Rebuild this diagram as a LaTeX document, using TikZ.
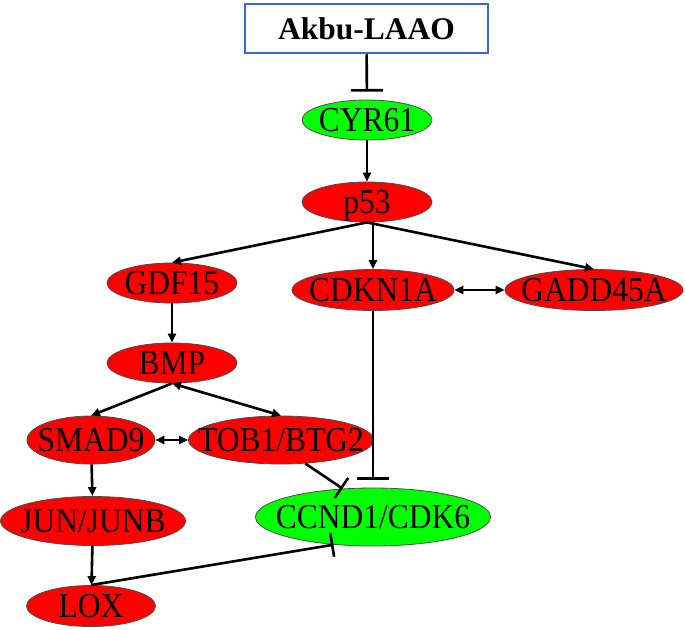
\documentclass[tikz,border=0pt]{standalone}
\usepackage{fontspec}
\setmainfont{Liberation Serif}
\newfontfamily\genefont[FakeStretch=0.9]{Liberation Serif}
\usetikzlibrary{shapes.geometric,arrows.meta}
\definecolor{genered}{RGB}{255,0,0}
\definecolor{genegreen}{RGB}{0,255,0}
\definecolor{boxblue}{RGB}{55,105,220}
\begin{document}
\begin{tikzpicture}[x=1pt,y=-1pt, >={Triangle[length=9pt,width=8pt]}, every node/.style={font=\genefont\fontsize{35}{35}\selectfont}]
	\tikzstyle{gene} = [ellipse,draw=black!70,line width=0.8pt,inner sep=0pt,text height=23pt,text depth=0pt,execute at begin node={\hbox to 0pt\bgroup\hss},execute at end node={\hss\egroup}]
	\tikzstyle{up} = [gene,fill=genered]
	\tikzstyle{down} = [gene,fill=genegreen]
	\tikzstyle{drug} = [rectangle,draw=boxblue,line width=2.5pt,minimum width=243pt,minimum height=49pt,font=\fontsize{31.5}{32}\selectfont\bfseries]
	\useasboundingbox (0,0) rectangle (685,629);
	\node[drug](drug)at (366.5,28.5){Akbu-LAAO};
	\node[down,minimum width=130pt,minimum height=40pt](g-cyr)at (367,120){CYR61};
	\node[up,minimum width=130pt,minimum height=40pt](g-p53)at (367,202){p53};
	
	\node[up,minimum width=130pt,minimum height=40pt](g-gdf)at (172,283){GDF15};
	\node[up,minimum width=162pt,minimum height=41pt](g-cdkn)at (373,290){CDKN1A};
	\node[up,minimum width=178pt,minimum height=41pt](g-gadd)at (594,290){GADD45A};
	
	\node[up,minimum width=130pt,minimum height=40pt](g-bmp)at (172,363){BMP};
	\node[up,minimum width=128pt,minimum height=48pt](g-smad)at (91,440){SMAD9};
	\node[up,minimum width=185pt,minimum height=48pt](g-tob)at (281,440){TOB1/BTG2};
	
	\node[up,minimum width=185pt,minimum height=49pt](g-jun)at (93,521){JUN/JUNB};
	\node[down,minimum width=235pt,minimum height=58pt](g-ccnd)at (373,517){CCND1/CDK6};
	\node[up,minimum width=129pt,minimum height=41pt](g-lox)at (91,606){LOX};
	
	\path[line width=2.6pt,->] (g-cyr) edge (g-p53)
	(g-p53.south) edge (g-gdf.north)
	(g-p53.south -| g-cdkn) edge (g-cdkn.north)
	(g-p53.south) edge (g-gadd.north)
	(g-gdf) edge (g-bmp)
	(g-bmp.south) edge (g-smad.north)
	(g-smad) edge (g-jun)
	(g-jun) edge (g-lox);
	\path[line width=2.6pt,<->] (g-bmp.south) edge (g-tob.north)
	(g-smad) edge (g-tob)
	(g-cdkn) edge (g-gadd);
	
	\path[line width=2.6pt,-{Bar[width=32pt]}] (drug) edge[shorten >=8pt] (g-cyr)
	(g-cdkn) edge[shorten >=8pt] (g-ccnd);
	\path[line width=2.6pt,-{Bar[width=24pt]}] (g-tob.-44) edge (g-ccnd.137)
	(g-lox.north) edge (g-ccnd.-145);
	
\end{tikzpicture}
\end{document}
